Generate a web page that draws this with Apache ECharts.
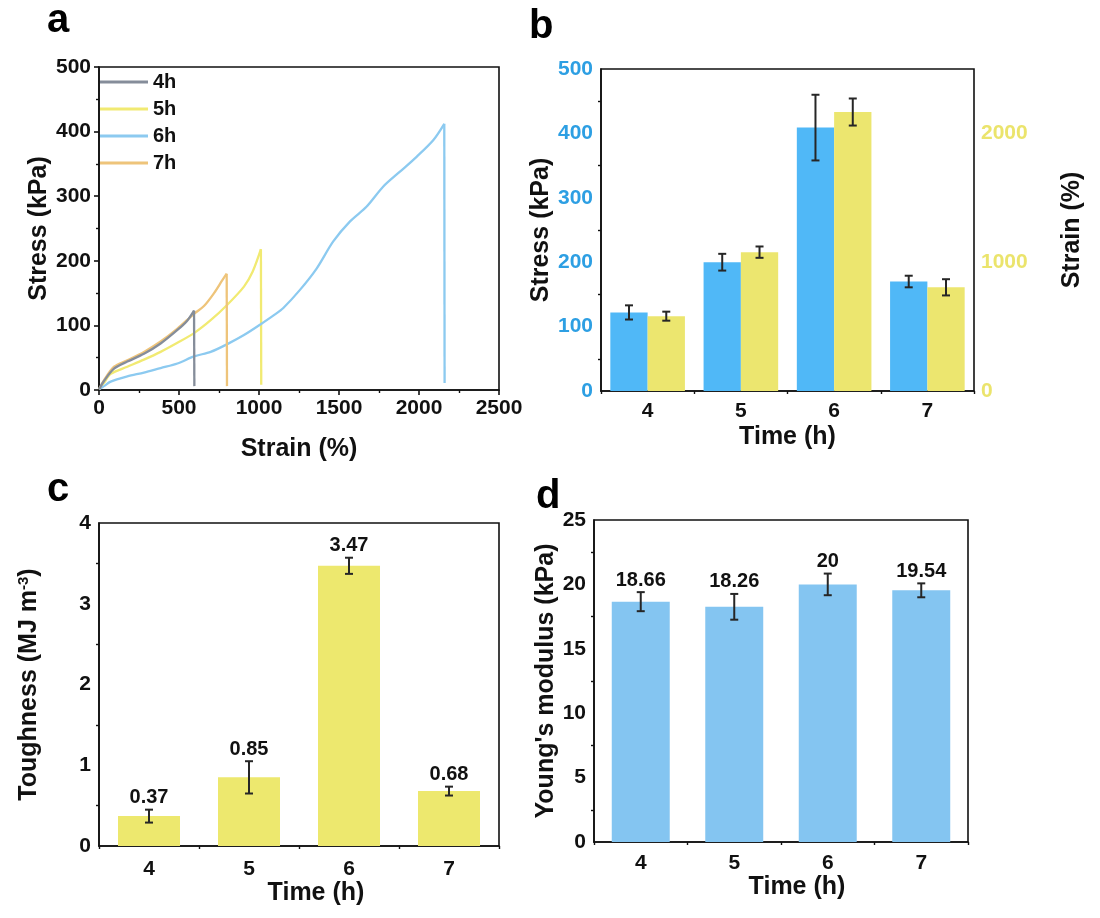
<!DOCTYPE html>
<html>
<head>
<meta charset="utf-8">
<script src="https://cdn.jsdelivr.net/npm/echarts@6/dist/echarts.min.js"></script>
<style>
  html, body { margin: 0; padding: 0; background: #fff; }
  #chart { width: 1100px; height: 918px; }
</style>
</head>
<body>
<div id="chart"></div>
<script>
// ---- (a) stress-strain curves: [strain %, stress kPa]; last point is the post-fracture drop ----
const curve4h = [[0,1],[31,14],[94,33],[177,44],[281,56],[385,72],[490,93],[550,107],[594,123],[596,6]];
const curve5h = [[0,1],[31,11],[73,25],[177,36],[281,47],[385,59],[490,73],[594,88],[698,108],[802,132],[906,160],[960,183],[1012,218],[1014,8]];
const curve6h = [[0,1],[31,6],[73,13],[177,21],[281,27],[385,34],[490,41],[594,52],[698,59],[802,71],[906,85],[1006,101],[1100,117],[1152,127],[1256,155],[1360,188],[1464,230],[1569,261],[1673,284],[1777,315],[1881,338],[1985,361],[2090,387],[2158,412],[2160,11]];
const curve7h = [[0,1],[31,15],[94,36],[177,46],[281,59],[385,75],[490,95],[594,118],[656,130],[719,150],[771,170],[798,180],[800,6]];

// ---- shared categories ----
const times = ['4', '5', '6', '7'];

// ---- (b) fracture stress and strain ----
const stressMean = [122, 200, 409, 170];
const stressErr = [11, 13, 51, 9];
const strainMean = [581, 1078, 2166, 805];
const strainErr = [35, 44, 105, 63];

// ---- (c) toughness ----
const toughness = [0.37, 0.85, 3.47, 0.68];
const toughnessErr = [0.08, 0.20, 0.10, 0.055];

// ---- (d) Young's modulus ----
const modulus = [18.66, 18.26, 20, 19.54];
const modulusErr = [0.74, 1.0, 0.84, 0.54];

const FONT = '"Liberation Sans", Arial, sans-serif';
const plain = v => String(v);
const tickFont = { fontFamily: FONT, fontWeight: 'bold', fontSize: 21, color: '#111', formatter: plain };
const nameFont = { fontFamily: FONT, fontWeight: 'bold', fontSize: 25, color: '#111' };
const axisLine = { show: true, lineStyle: { color: '#111', width: 1.6 } };
const gridBox = { show: true, borderColor: '#111', borderWidth: 1.6, backgroundColor: 'transparent' };

function errorBars(offsetFrac, withLabel) {
  return function (params, api) {
    const i = api.value(0), m = api.value(1), e = api.value(2);
    const band = api.size([1, 0])[0];
    const x = api.coord([i, m])[0] + offsetFrac * band;
    const top = api.coord([i, m + e])[1];
    const bot = api.coord([i, m - e])[1];
    const cap = 4;
    const style = { stroke: '#262626', lineWidth: 2 };
    const children = [
      { type: 'line', shape: { x1: x, y1: top, x2: x, y2: bot }, style },
      { type: 'line', shape: { x1: x - cap, y1: top, x2: x + cap, y2: top }, style },
      { type: 'line', shape: { x1: x - cap, y1: bot, x2: x + cap, y2: bot }, style }
    ];
    if (withLabel) {
      children.push({
        type: 'text', x: x, y: top - 2,
        style: {
          text: String(m), fill: '#111',
          font: 'bold 20px ' + FONT,
          textAlign: 'center', textVerticalAlign: 'bottom',
          align: 'center', verticalAlign: 'bottom'
        }
      });
    }
    return { type: 'group', children };
  };
}

function rows(means, errs) {
  return means.map((m, i) => [i, m, errs[i]]);
}

function categoryAxes(gridIndex, nameGap, namePad, labelMargin) {
  return [
    {
      type: 'category', gridIndex, data: times,
      axisLine, axisTick: { alignWithLabel: true, length: 6, lineStyle: { width: 1.6, color: '#111' } },
      axisLabel: Object.assign({}, tickFont, { margin: labelMargin }),
      splitLine: { show: false },
      name: 'Time (h)', nameLocation: 'middle', nameGap,
      nameTextStyle: Object.assign({ padding: namePad }, nameFont)
    },
    {
      type: 'category', gridIndex, data: times, position: 'bottom',
      axisLine: { show: false },
      axisTick: { show: true, length: 3, lineStyle: { width: 1.4, color: '#111' } },
      axisLabel: { show: false }, splitLine: { show: false }
    }
  ];
}

const minor = { show: true, splitNumber: 2, length: 3, lineStyle: { color: '#111', width: 1.4 } };
const majorTick = { length: 5, lineStyle: { width: 1.6, color: '#111' } };

// Each curve: a smoothed loading part plus a straight fracture drop, sharing one legend entry.
function curveSeries(name, data, color, z) {
  const common = {
    name, type: 'line', xAxisIndex: 0, yAxisIndex: 0, symbol: 'none',
    lineStyle: { color, width: 2.3 }, itemStyle: { color }, z
  };
  return [
    Object.assign({ data: data.slice(0, -1), smooth: 0.3 }, common),
    Object.assign({ data: data.slice(-2), smooth: false }, common)
  ];
}

const chart = echarts.init(document.getElementById('chart'), null, { renderer: 'canvas' });

const option = {
  animation: false,
  backgroundColor: '#fff',
  grid: [
    Object.assign({ left: 99, top: 67, width: 400, height: 323 }, gridBox),
    Object.assign({ left: 601, top: 69, width: 373, height: 322 }, gridBox),
    Object.assign({ left: 99, top: 523, width: 400, height: 323 }, gridBox),
    Object.assign({ left: 594, top: 520, width: 374, height: 322 }, gridBox)
  ],
  legend: {
    left: 100, top: 72, orient: 'vertical', padding: 0,
    icon: 'rect', itemWidth: 48, itemHeight: 3, itemGap: 7,
    textStyle: { fontFamily: FONT, fontWeight: 'bold', fontSize: 20, color: '#111', padding: [2, 0, 0, 0] },
    data: ['4h', '5h', '6h', '7h']
  },
  xAxis: [
    {
      type: 'value', gridIndex: 0, min: 0, max: 2500, interval: 500,
      axisLine, axisTick: majorTick, minorTick: minor,
      axisLabel: Object.assign({}, tickFont, { margin: 8 }),
      splitLine: { show: false },
      name: 'Strain (%)', nameLocation: 'middle', nameGap: 47, nameTextStyle: nameFont
    },
    ...categoryAxes(1, 34, [0, 0, 0, 0], 10),
    ...categoryAxes(2, 35, [0, 0, 0, 34], 13),
    ...categoryAxes(3, 33, [0, 0, 0, 32], 11)
  ],
  yAxis: [
    {
      type: 'value', gridIndex: 0, min: 0, max: 500, interval: 100,
      axisLine, axisTick: majorTick, minorTick: minor,
      axisLabel: Object.assign({}, tickFont, { margin: 8 }),
      splitLine: { show: false },
      name: 'Stress (kPa)', nameLocation: 'middle', nameGap: 47, nameTextStyle: nameFont
    },
    {
      type: 'value', gridIndex: 1, min: 0, max: 500, interval: 100,
      axisLine, axisTick: majorTick, minorTick: minor,
      axisLabel: Object.assign({}, tickFont, { margin: 8, color: '#2d9fe3' }),
      splitLine: { show: false },
      name: 'Stress (kPa)', nameLocation: 'middle', nameGap: 43, nameTextStyle: nameFont
    },
    {
      type: 'value', gridIndex: 1, position: 'right', min: 0, max: 2500, interval: 1000,
      axisLine: { show: false }, axisTick: { show: false },
      axisLabel: Object.assign({}, tickFont, { margin: 7, color: '#ebe46c', showMaxLabel: false }),
      splitLine: { show: false },
      name: 'Strain (%)', nameLocation: 'middle', nameGap: 86, nameRotate: 90, nameTextStyle: nameFont
    },
    {
      type: 'value', gridIndex: 2, min: 0, max: 4, interval: 1,
      axisLine, axisTick: majorTick, minorTick: minor,
      axisLabel: Object.assign({}, tickFont, { margin: 8 }),
      splitLine: { show: false },
      name: 'Toughness (MJ m{sup|-3})', nameLocation: 'middle', nameGap: 56,
      nameTextStyle: Object.assign({
        rich: { sup: { fontFamily: FONT, fontWeight: 'bold', fontSize: 15, color: '#111', verticalAlign: 'top', padding: [0, 0, 12, 0] } }
      }, nameFont)
    },
    {
      type: 'value', gridIndex: 3, min: 0, max: 25, interval: 5,
      axisLine, axisTick: majorTick, minorTick: minor,
      axisLabel: Object.assign({}, tickFont, { margin: 8 }),
      splitLine: { show: false },
      name: "Young's modulus (kPa)", nameLocation: 'middle', nameGap: 30, nameTextStyle: nameFont
    }
  ],
  series: [
    // (a)
    ...curveSeries('4h', curve4h, '#858d9a', 5),
    ...curveSeries('5h', curve5h, '#f1ea72', 3),
    ...curveSeries('6h', curve6h, '#8ccaf0', 3),
    ...curveSeries('7h', curve7h, '#eec47a', 4),
    // (b)
    { type: 'bar', xAxisIndex: 1, yAxisIndex: 1, data: stressMean, barGap: '0%', barCategoryGap: '20%', itemStyle: { color: '#50b8f7' } },
    { type: 'bar', xAxisIndex: 1, yAxisIndex: 2, data: strainMean, barGap: '0%', barCategoryGap: '20%', itemStyle: { color: '#ece66f' } },
    { type: 'custom', xAxisIndex: 1, yAxisIndex: 1, data: rows(stressMean, stressErr), encode: { x: 0, y: 1 }, renderItem: errorBars(-0.2, false), clip: false, z: 10 },
    { type: 'custom', xAxisIndex: 1, yAxisIndex: 2, data: rows(strainMean, strainErr), encode: { x: 0, y: 1 }, renderItem: errorBars(0.2, false), clip: false, z: 10 },
    // (c)
    { type: 'bar', xAxisIndex: 3, yAxisIndex: 3, data: toughness, barCategoryGap: '38%', itemStyle: { color: '#ede86e' } },
    { type: 'custom', xAxisIndex: 3, yAxisIndex: 3, data: rows(toughness, toughnessErr), encode: { x: 0, y: 1 }, renderItem: errorBars(0, true), clip: false, z: 10 },
    // (d)
    { type: 'bar', xAxisIndex: 5, yAxisIndex: 4, data: modulus, barCategoryGap: '38%', itemStyle: { color: '#84c5f1' } },
    { type: 'custom', xAxisIndex: 5, yAxisIndex: 4, data: rows(modulus, modulusErr), encode: { x: 0, y: 1 }, renderItem: errorBars(0, true), clip: false, z: 10 }
  ],
  graphic: [
    { type: 'text', left: 47, top: 1, style: { text: 'a', font: 'bold 40px ' + FONT, fill: '#000' } },
    { type: 'text', left: 529, top: 7, style: { text: 'b', font: 'bold 40px ' + FONT, fill: '#000' } },
    { type: 'text', left: 47, top: 470, style: { text: 'c', font: 'bold 40px ' + FONT, fill: '#000' } },
    { type: 'text', left: 536, top: 477, style: { text: 'd', font: 'bold 40px ' + FONT, fill: '#000' } }
  ]
};

chart.setOption(option);
</script>
</body>
</html>
